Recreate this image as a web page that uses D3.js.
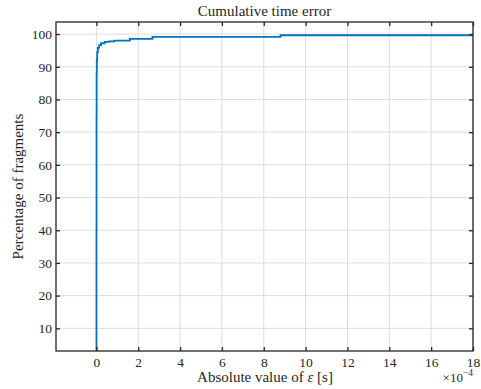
<!DOCTYPE html>
<html>
<head>
<meta charset="utf-8">
<script src="https://cdn.jsdelivr.net/npm/d3@7"></script>
<style>
  body { margin: 0; background: #fff; }
  text { font-family: "Liberation Serif", "DejaVu Serif", serif; fill: #262626; }
</style>
</head>
<body>
<svg id="chart" width="481" height="389"></svg>
<script>
// absolute time error (x 1e-4 s) and cumulative percentage of fragments
var errorValues = [0, 0.004, 0.008, 0.012, 0.02, 0.04, 0.07, 0.13, 0.22, 0.4, 0.6, 0.85, 1.6, 2.68, 8.8, 18.0];
var percentages = [0, 40, 75, 88, 92, 94.5, 95.8, 96.6, 97.2, 97.6, 97.8, 98.0, 98.55, 99.15, 99.65, 100];
var xTicks = [0, 2, 4, 6, 8, 10, 12, 14, 16, 18];
var yTicks = [10, 20, 30, 40, 50, 60, 70, 80, 90, 100];

var data = errorValues.map((d, i) => ({x: d, y: percentages[i]}));

const svg = d3.select("#chart");
var margin = {top: 22, right: 8, bottom: 38, left: 56},
    width = +svg.attr("width") - margin.left - margin.right,
    height = +svg.attr("height") - margin.top - margin.bottom;

var x = d3.scaleLinear().domain([-1.93, 18]).range([0, width]);
var y = d3.scaleLinear().domain([3.06, 103.7]).range([height, 0]);

var g = svg.append("g")
    .attr("transform", `translate(${margin.left},${margin.top})`);

// grid
g.append("g").selectAll("line")
    .data(xTicks).enter().append("line")
    .attr("x1", d => x(d)).attr("x2", d => x(d))
    .attr("y1", 0).attr("y2", height)
    .attr("stroke", "#dcdcdc").attr("stroke-width", 1);
g.append("g").selectAll("line")
    .data(yTicks).enter().append("line")
    .attr("y1", d => y(d)).attr("y2", d => y(d))
    .attr("x1", 0).attr("x2", width)
    .attr("stroke", "#dcdcdc").attr("stroke-width", 1);

// clip for the curve
g.append("clipPath").attr("id", "clip")
    .append("rect").attr("width", width).attr("height", height);

var line = d3.line()
    .x(d => x(d.x))
    .y(d => y(d.y))
    .curve(d3.curveStepAfter);

g.append("path")
    .datum(data)
    .attr("clip-path", "url(#clip)")
    .attr("fill", "none")
    .attr("stroke", "#0072BD")
    .attr("stroke-width", 1.8)
    .attr("d", line);

// axes (ticks pointing inward, MATLAB style)
function styleAxis(sel) {
    sel.select(".domain").remove();
    sel.selectAll(".tick line").attr("stroke", "#262626").attr("stroke-width", 1.3);
    sel.selectAll(".tick text").style("font-size", "13.5px");
}

g.append("g")
    .attr("transform", `translate(0,${height})`)
    .call(d3.axisBottom(x).tickValues(xTicks).tickSizeInner(-4).tickSizeOuter(0).tickPadding(6))
    .call(styleAxis);
g.append("g")
    .call(d3.axisTop(x).tickValues(xTicks).tickSizeInner(-4).tickSizeOuter(0).tickFormat(""))
    .call(styleAxis);
g.append("g")
    .call(d3.axisLeft(y).tickValues(yTicks).tickSizeInner(-4).tickSizeOuter(0).tickPadding(4))
    .call(styleAxis);
g.append("g")
    .attr("transform", `translate(${width},0)`)
    .call(d3.axisRight(y).tickValues(yTicks).tickSizeInner(-4).tickSizeOuter(0).tickFormat(""))
    .call(styleAxis);

g.append("rect")
    .attr("width", width).attr("height", height)
    .attr("fill", "none").attr("stroke", "#262626").attr("stroke-width", 1.3);

// labels
svg.append("text")
    .attr("x", margin.left + width / 2).attr("y", 16)
    .attr("text-anchor", "middle").style("font-size", "15px")
    .text("Cumulative time error");

svg.append("text")
    .attr("x", 265).attr("y", 382)
    .attr("text-anchor", "middle").style("font-size", "15px")
    .html('Absolute value of <tspan font-style="italic">ε</tspan> [s]');

svg.append("text")
    .attr("transform", `translate(23,${margin.top + height / 2}) rotate(-90)`)
    .attr("text-anchor", "middle").style("font-size", "15px")
    .text("Percentage of fragments");

svg.append("text")
    .attr("x", 473).attr("y", 382)
    .attr("text-anchor", "end").style("font-size", "13px")
    .html('×10<tspan dy="-6" font-size="9.5px">−4</tspan>');
</script>
</body>
</html>
